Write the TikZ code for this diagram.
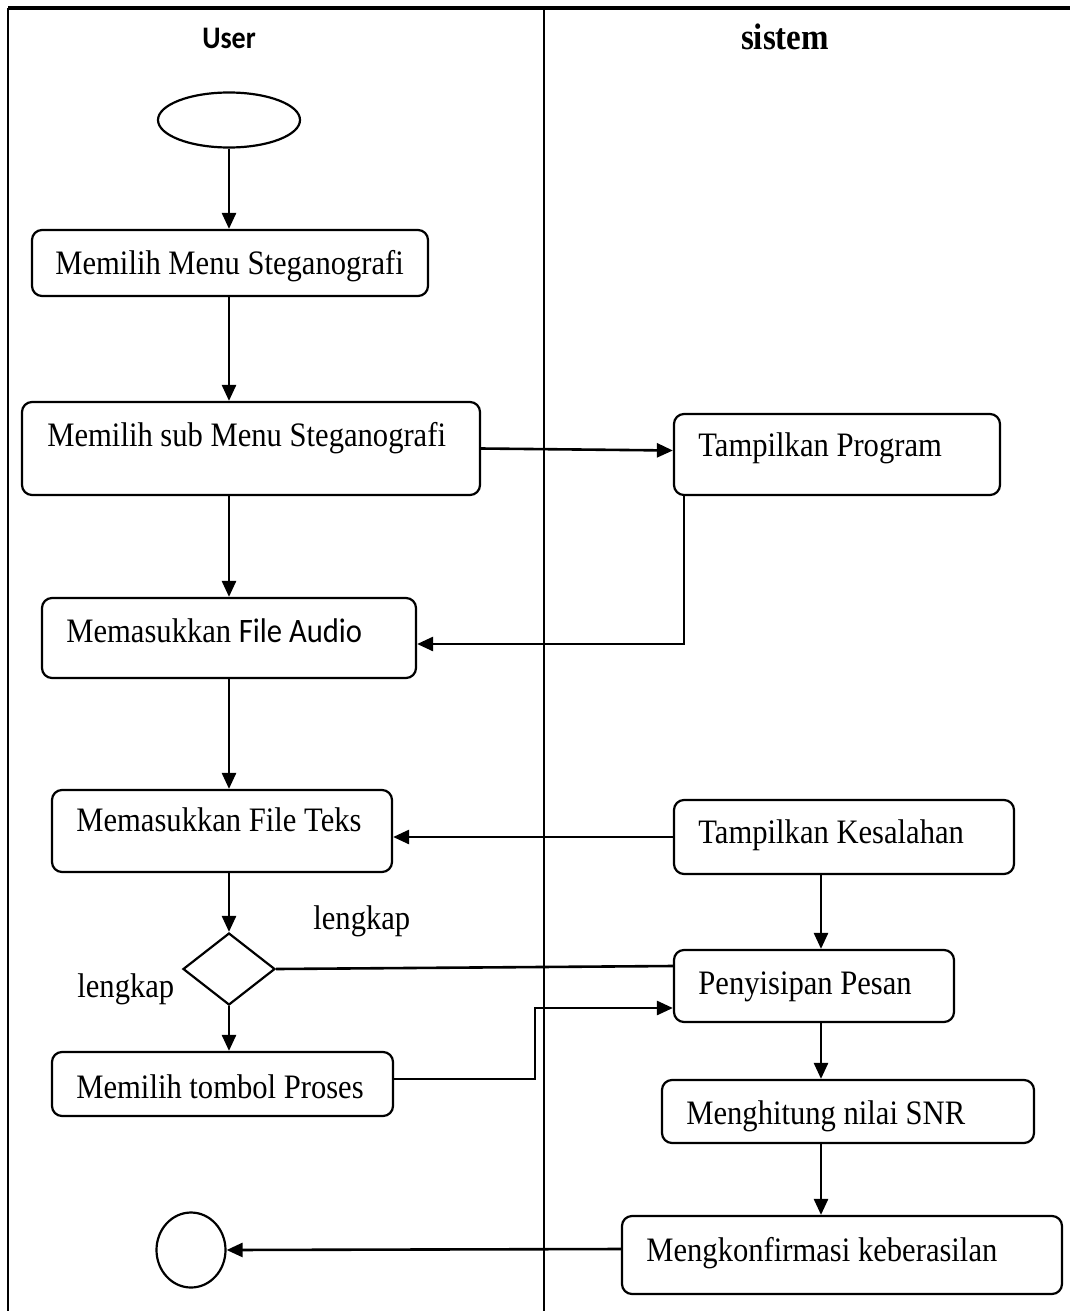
\documentclass[tikz,border=0pt]{standalone}
\usepackage{fontspec}
\usepackage{graphicx}
\setmainfont{Liberation Serif}
\newfontfamily\calibri{Carlito}
\usetikzlibrary{shapes.geometric,arrows.meta}

% slightly tall lettering, as set in the original word-processor figure
\newcommand{\tallText}[1]{\scalebox{1}[1.12]{#1}}

\tikzset{
  actbox/.style={draw, line width=1.1pt, rounded corners=5pt, inner sep=0pt},
  lbl/.style={inner sep=0pt, anchor=base west, font=\fontsize{15.3}{18}\selectfont},
  flow/.style={line width=1.3pt, -{Triangle[length=8pt,width=7pt]}},
  plain/.style={line width=1.3pt},
  lane/.style={line width=0.9pt},
}

\begin{document}
\begin{tikzpicture}[x=0.5pt, y=-0.5pt]
\useasboundingbox (0,0) rectangle (1070,1311);

% swimlane frame
\draw[line width=1.6pt] (8,8) -- (1070,8);
\draw[lane, line width=1.1pt] (8,8) -- (8,1311);
\draw[lane] (544,8) -- (544,1311);

\node[inner sep=0pt, anchor=base, font=\calibri\bfseries\fontsize{14}{16}\selectfont] (huser) at (229,49) {\tallText{User}};
\node[inner sep=0pt, anchor=base, font=\bfseries\fontsize{16.5}{19}\selectfont] (hsys) at (785,50) {\tallText{sistem}};

% start / end
\node[draw, line width=1.1pt, ellipse, minimum width=71pt, minimum height=27.5pt, inner sep=0pt] (start) at (229,120) {};
\node[draw, line width=1.1pt, ellipse, minimum width=34.5pt, minimum height=37.5pt, inner sep=0pt] (stop) at (191,1250) {};

% user lane
\node[actbox, minimum width=198pt, minimum height=33pt] (b1) at (230,263) {};
\node[actbox, minimum width=229pt, minimum height=46.5pt] (b2) at (251,448.5) {};
\node[actbox, minimum width=187pt, minimum height=40pt] (b4) at (229,638) {};
\node[actbox, minimum width=170pt, minimum height=41pt] (b5) at (222,831) {};
\node[draw, line width=1.1pt, diamond, minimum width=46pt, minimum height=36pt, inner sep=0pt] (dia) at (229,969) {};
\node[actbox, minimum width=170.5pt, minimum height=32pt] (b6) at (222.5,1084) {};

% system lane
\node[actbox, minimum width=163pt, minimum height=40.5pt] (tp) at (837,454.5) {};
\node[actbox, minimum width=170pt, minimum height=37pt] (ks) at (844,837) {};
\node[actbox, minimum width=140pt, minimum height=36pt] (ps) at (814,986) {};
\node[actbox, minimum width=186pt, minimum height=31.5pt] (snr) at (848,1111.5) {};
\node[actbox, minimum width=220pt, minimum height=39pt] (konf) at (842,1255) {};

% box texts
\node[lbl] (t1) at (55,274) {\tallText{Memilih Menu Steganografi}};
\node[lbl] (t2) at (47,446) {\tallText{Memilih sub Menu Steganografi}};
\node[lbl] (t3) at (698,456) {\tallText{Tampilkan Program}};
\node[lbl] (t4) at (66,642) {\tallText{Memasukkan {\calibri File Audio}}};
\node[lbl] (t5) at (76,831) {\tallText{Memasukkan File Teks}};
\node[lbl] (t6) at (698,843) {\tallText{Tampilkan Kesalahan}};
\node[lbl] (t7) at (698,994) {\tallText{Penyisipan Pesan}};
\node[lbl] (t8) at (76,1098) {\tallText{Memilih tombol Proses}};
\node[lbl] (t9) at (686,1124) {\tallText{Menghitung nilai SNR}};
\node[lbl] (t10) at (646,1261) {\tallText{Mengkonfirmasi keberasilan}};
\node[lbl] (g1) at (313,929) {\tallText{lengkap}};
\node[lbl] (g2) at (77,997) {\tallText{lengkap}};

% connectors
\draw[flow] (start.south) -- (start.south |- b1.north);
\draw[flow] (b1.south -| start.south) -- (start.south |- b2.north);
\draw[flow] (b2.east) -- ([yshift=2pt]tp.west);
\draw[flow] (b2.south -| b4.north) -- (b4.north);
\draw[flow] ([xshift=5.5pt]tp.south west) |- ([yshift=-3pt]b4.east);
\draw[flow] (b4.south) -- (b4.south |- b5.north);
\draw[flow] (ks.west) -- (ks.west -| b5.east);
\draw[flow] (b5.south -| dia.north) -- (dia.north);
\draw[plain] (dia.east) -- ([yshift=10pt]ps.west);
\draw[flow] (dia.south) -- (dia.south |- b6.north);
\draw[flow] ([yshift=2.5pt]b6.east) -- ++(70.5pt,0) |- ([yshift=-11pt]ps.west);
\draw[flow] ([xshift=-11.5pt]ks.south) -- ([xshift=3.5pt]ps.north);
\draw[flow] ([xshift=3.5pt]ps.south) -- ([xshift=-13.5pt]snr.north);
\draw[flow] ([xshift=-13.5pt]snr.south) -- ([xshift=-10.5pt]konf.north);
\draw[flow] ([yshift=3pt]konf.west) -- (stop.east);
\end{tikzpicture}
\end{document}
